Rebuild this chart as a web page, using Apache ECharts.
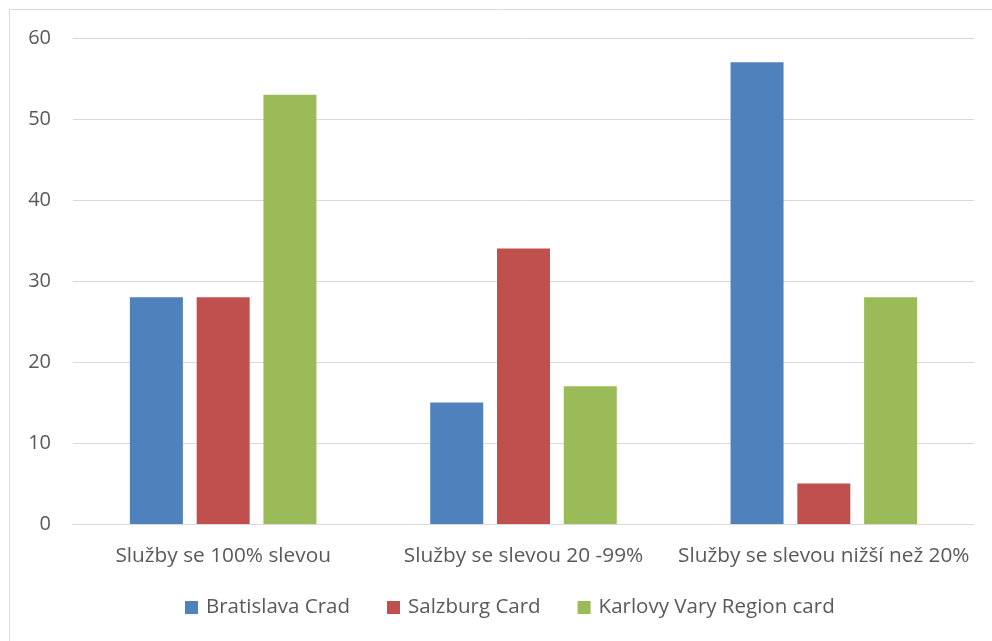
<!DOCTYPE html>
<html>
<head>
<meta charset="utf-8">
<script src="https://cdn.jsdelivr.net/npm/echarts@6/dist/echarts.min.js"></script>
<style>
  html, body {margin:0; padding:0; background:#fff;}
  #chart {width:992px; height:641px;}
</style>
</head>
<body>
<div id="chart"></div>
<script type="text/javascript">
  var categories = ['Služby se 100% slevou', 'Služby se slevou 20 -99%', 'Služby se slevou nižší než 20%'];
  var seriesNames = ['Bratislava Crad', 'Salzburg Card', 'Karlovy Vary Region card'];
  var bratislava = [28, 15, 57];
  var salzburg = [28, 34, 5];
  var karlovyVary = [53, 17, 28];
  var colors = ['#4f81bd', '#c0504d', '#9bbb59'];

  var font = '"Open Sans", "Noto Sans", sans-serif';
  var chart = echarts.init(document.getElementById('chart'));

  var values = [bratislava, salzburg, karlovyVary];
  var series = seriesNames.map(function (name, i) {
    return {
      name: name,
      type: 'bar',
      data: values[i],
      barWidth: 53,
      barGap: '26%',
      itemStyle: {color: colors[i]}
    };
  });

  chart.setOption({
    animation: false,
    color: colors,
    textStyle: {fontFamily: font},
    graphic: [{
      type: 'rect',
      shape: {x: 9.5, y: 9.5, width: 1000, height: 700},
      style: {fill: 'none', stroke: '#d9d9d9', lineWidth: 1},
      silent: true
    }],
    grid: {left: 73, right: 18, top: 38, bottom: 117},
    legend: {
      bottom: 18,
      left: 180,
      itemWidth: 13,
      itemHeight: 13,
      itemGap: 37,
      icon: 'rect',
      textStyle: {fontFamily: font, fontSize: 20.5, color: '#595959', padding: [0, 0, 0, 3]},
      data: seriesNames
    },
    xAxis: {
      type: 'category',
      data: categories,
      axisLine: {lineStyle: {color: '#d9d9d9', width: 1}},
      axisTick: {show: false},
      axisLabel: {interval: 0, fontFamily: font, fontSize: 20.8, color: '#595959', margin: 22}
    },
    yAxis: {
      type: 'value',
      min: 0,
      max: 60,
      interval: 10,
      axisLine: {show: false},
      axisTick: {show: false},
      splitLine: {lineStyle: {color: '#d9d9d9', width: 1}},
      axisLabel: {fontFamily: font, fontSize: 20, color: '#595959', margin: 22}
    },
    series: series
  });
</script>
</body>
</html>
